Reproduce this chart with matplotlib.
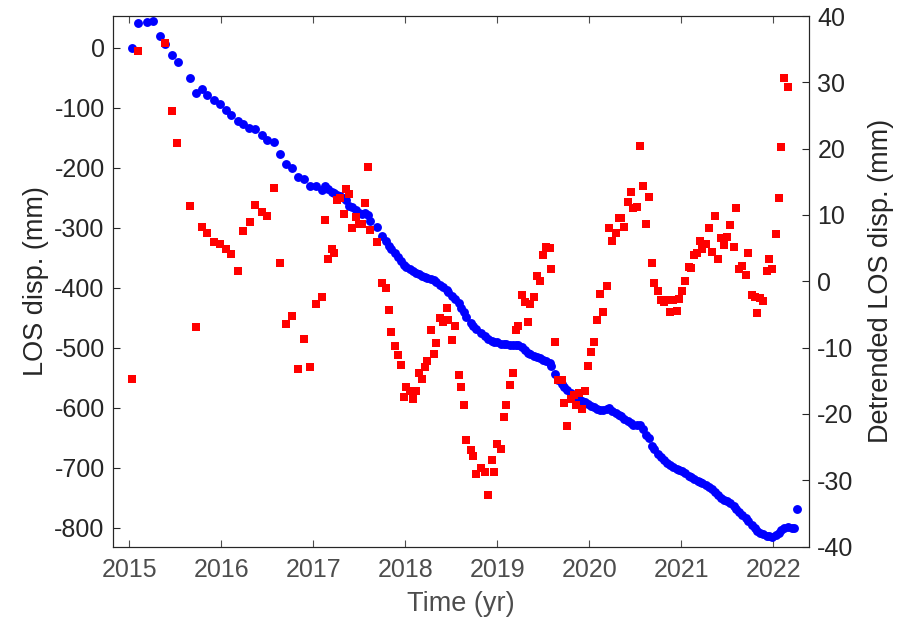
import numpy as np
import matplotlib.pyplot as plt

plt.rcParams['font.family'] = ['Liberation Sans', 'DejaVu Sans']
plt.rcParams['axes.unicode_minus'] = False

# LOS displacement time series (mm)
los_t = [2015.03, 2015.09, 2015.19, 2015.26, 2015.33, 2015.39, 2015.46, 2015.53, 2015.66, 2015.72,
         2015.79, 2015.85, 2015.92, 2015.99, 2016.05, 2016.11, 2016.18, 2016.24, 2016.30, 2016.37,
         2016.44, 2016.50, 2016.57, 2016.64, 2016.70, 2016.77, 2016.83, 2016.90, 2016.96, 2017.03,
         2017.09, 2017.13, 2017.16, 2017.20, 2017.23, 2017.26, 2017.29, 2017.33, 2017.36, 2017.39,
         2017.42, 2017.46, 2017.50, 2017.53, 2017.56, 2017.59, 2017.62, 2017.69, 2017.75, 2017.79,
         2017.82, 2017.85, 2017.89, 2017.92, 2017.95, 2017.99, 2018.01, 2018.05, 2018.08, 2018.12,
         2018.15, 2018.18, 2018.22, 2018.24, 2018.28, 2018.31, 2018.34, 2018.38, 2018.41, 2018.45,
         2018.47, 2018.51, 2018.54, 2018.58, 2018.61, 2018.64, 2018.66, 2018.71, 2018.74, 2018.77,
         2018.82, 2018.87, 2018.90, 2018.94, 2018.97, 2019.00, 2019.04, 2019.07, 2019.10, 2019.14,
         2019.17, 2019.20, 2019.23, 2019.27, 2019.30, 2019.33, 2019.36, 2019.40, 2019.43, 2019.46,
         2019.50, 2019.53, 2019.57, 2019.59, 2019.63, 2019.66, 2019.70, 2019.73, 2019.76, 2019.80,
         2019.83, 2019.86, 2019.89, 2019.92, 2019.95, 2019.99, 2020.02, 2020.05, 2020.09, 2020.12,
         2020.15, 2020.19, 2020.22, 2020.25, 2020.29, 2020.32, 2020.35, 2020.38, 2020.42, 2020.45,
         2020.48, 2020.52, 2020.55, 2020.58, 2020.62, 2020.65, 2020.68, 2020.71, 2020.75, 2020.78,
         2020.81, 2020.85, 2020.88, 2020.91, 2020.95, 2020.98, 2021.01, 2021.04, 2021.08, 2021.11,
         2021.14, 2021.18, 2021.20, 2021.23, 2021.27, 2021.30, 2021.33, 2021.37, 2021.40, 2021.43,
         2021.47, 2021.50, 2021.53, 2021.57, 2021.60, 2021.63, 2021.66, 2021.70, 2021.73, 2021.77,
         2021.80, 2021.83, 2021.86, 2021.89, 2021.93, 2021.96, 2021.99, 2022.03, 2022.06, 2022.09,
         2022.12, 2022.16, 2022.20, 2022.23, 2022.26]
los = [-1, 41, 43, 44, 19, 6, -11.5, -24, -50, -75,
       -68.5, -78, -87, -94, -103, -112, -122, -127, -133, -136,
       -146, -154, -157, -177, -194, -200, -216, -219, -231, -230,
       -237, -230, -236, -240, -242, -245, -247, -250, -254, -263,
       -266, -271, -276, -277, -276, -279, -289, -299, -313, -322,
       -330, -336, -342, -348, -355, -362, -365, -369, -372, -375,
       -377, -380, -382, -383, -385, -387, -390, -395, -399, -404,
       -407, -413, -418, -425, -433, -441, -448, -458, -464, -469,
       -475, -481, -485, -488, -490, -491, -493, -494, -494, -495,
       -496, -496, -496, -499, -503, -508, -511, -514, -516, -517,
       -520, -522, -526, -531, -544, -553, -560, -566, -570, -576,
       -579, -583, -585, -588, -591, -594, -597, -599, -602, -603,
       -604, -602, -601, -605, -609, -612, -614, -618, -622, -625,
       -628, -628, -629, -636, -645, -650, -663, -669, -677, -682,
       -687, -692, -696, -699, -702, -704, -706, -709, -713, -716,
       -719, -722, -724, -726, -729, -732, -735, -740, -746, -750,
       -753, -755, -759, -764, -769, -774, -778, -783, -788, -795,
       -800, -805, -809, -811, -813, -814, -816, -812, -808, -804,
       -801, -799, -800, -801, -768]

# detrended displacement (mm)
det_t = [2015.03, 2015.09, 2015.39, 2015.46, 2015.52, 2015.66, 2015.72, 2015.79, 2015.85, 2015.92,
         2015.99, 2016.05, 2016.11, 2016.18, 2016.24, 2016.31, 2016.37, 2016.44, 2016.50, 2016.57,
         2016.64, 2016.70, 2016.77, 2016.83, 2016.90, 2016.96, 2017.03, 2017.09, 2017.13, 2017.16,
         2017.20, 2017.23, 2017.26, 2017.29, 2017.33, 2017.36, 2017.39, 2017.42, 2017.46, 2017.50,
         2017.53, 2017.56, 2017.59, 2017.62, 2017.69, 2017.75, 2017.79, 2017.82, 2017.85, 2017.89,
         2017.92, 2017.95, 2017.99, 2018.01, 2018.05, 2018.08, 2018.12, 2018.15, 2018.18, 2018.22,
         2018.24, 2018.28, 2018.31, 2018.34, 2018.38, 2018.41, 2018.45, 2018.47, 2018.51, 2018.54,
         2018.58, 2018.61, 2018.64, 2018.66, 2018.71, 2018.74, 2018.77, 2018.82, 2018.87, 2018.90,
         2018.94, 2018.97, 2019.00, 2019.04, 2019.07, 2019.10, 2019.14, 2019.17, 2019.20, 2019.23,
         2019.27, 2019.30, 2019.33, 2019.36, 2019.40, 2019.43, 2019.46, 2019.50, 2019.53, 2019.57,
         2019.59, 2019.63, 2019.66, 2019.70, 2019.73, 2019.76, 2019.80, 2019.83, 2019.86, 2019.89,
         2019.92, 2019.95, 2019.99, 2020.02, 2020.05, 2020.09, 2020.12, 2020.15, 2020.19, 2020.22,
         2020.25, 2020.29, 2020.32, 2020.35, 2020.38, 2020.42, 2020.45, 2020.48, 2020.52, 2020.55,
         2020.58, 2020.62, 2020.65, 2020.68, 2020.71, 2020.75, 2020.78, 2020.81, 2020.85, 2020.88,
         2020.91, 2020.95, 2020.98, 2021.01, 2021.04, 2021.08, 2021.11, 2021.14, 2021.17, 2021.20,
         2021.23, 2021.27, 2021.30, 2021.33, 2021.37, 2021.40, 2021.43, 2021.47, 2021.50, 2021.53,
         2021.57, 2021.60, 2021.63, 2021.66, 2021.70, 2021.73, 2021.77, 2021.80, 2021.83, 2021.86,
         2021.89, 2021.93, 2021.96, 2021.99, 2022.03, 2022.06, 2022.09, 2022.12, 2022.16]
det = [-14.7, 34.7, 35.9, 25.6, 20.9, 11.4, -6.9, 8.2, 7.3, 5.9,
       5.6, 4.9, 4.1, 1.6, 7.6, 8.9, 11.5, 10.4, 9.9, 14.1,
       2.7, -6.5, -5.3, -13.2, -8.75, -12.9, -3.5, -2.3, 9.2, 3.3,
       4.9, 4.2, 12.2, 12.6, 10.1, 13.9, 13.1, 8.0, 9.7, 8.7,
       8.6, 11.8, 17.2, 7.7, 5.9, -0.2, -1.0, -4.3, -7.7, -9.7,
       -11.1, -12.6, -17.4, -15.9, -16.6, -17.7, -16.6, -13.8, -14.7, -12.9,
       -12.0, -7.4, -11.0, -9.3, -5.5, -6.2, -4.1, -5.8, -8.9, -6.8,
       -14.2, -16.0, -18.6, -23.9, -25.5, -26.3, -29.0, -28.2, -28.8, -32.2,
       -27.0, -28.8, -24.6, -25.3, -20.5, -18.7, -15.6, -13.8, -7.4, -6.7,
       -2.0, -3.1, -6.1, -3.5, -2.4, 0.8, 0.1, 4.0, 5.1, 5.0,
       1.9, -9.1, -14.9, -14.9, -18.4, -21.9, -17.7, -17.1, -18.7, -16.9,
       -19.2, -16.6, -12.8, -10.7, -9.1, -5.8, -1.9, -4.6, -0.7, 8.1,
       6.1, 7.3, 9.5, 9.5, 8.2, 11.9, 13.4, 11.1, 11.25, 20.4,
       14.3, 8.6, 12.7, 2.7, -0.3, -1.5, -2.9, -3.2, -2.9, -4.7,
       -2.9, -4.5, -2.7, -1.5, 0.1, 2.2, 2.0, 4.0, 4.2, 6.1,
       4.8, 5.6, 8.1, 4.4, 9.8, 3.4, 6.5, 5.5, 6.7, 8.5,
       5.1, 11.0, 1.9, 2.3, 1.0, 4.3, -2.0, -2.4, -4.8, -2.5,
       -3.0, 1.5, 3.4, 1.8, 7.2, 12.6, 20.2, 30.6, 29.3]

years = np.arange(2015, 2023)

dark = '#262626'
grey = '#4d4d4d'
fig = plt.figure(figsize=(8.99, 6.22), dpi=100)
ax1 = fig.add_axes([113 / 899, 75.5 / 622, 696 / 899, 530.5 / 622])
ax1.plot(los_t, los, 'o', color='blue', markersize=6.4, markeredgewidth=0)
ax1.set_xlim(2014.823, 2022.39)
ax1.set_ylim(-831, 53)
ax1.set_xticks(years)
ax1.set_yticks(np.arange(-800, 1, 100))
ax1.set_xlabel('Time (yr)', fontsize=19.5, color=grey, labelpad=7)
ax1.set_ylabel('LOS disp. (mm)', fontsize=19.5, color=dark, labelpad=4)
ax1.tick_params(axis='x', direction='in', top=True, length=5, width=0.8,
                labelsize=18, colors=grey, pad=8)
ax1.tick_params(axis='y', direction='in', length=5, width=0.8,
                labelsize=18, colors=dark, pad=6)

ax2 = ax1.twinx()
ax2.plot(det_t, det, 's', color='red', markersize=5.2, markeredgewidth=0)
ax2.set_ylim(-40, 40)
ax2.set_yticks(np.arange(-40, 41, 10))
ax2.set_ylabel('Detrended LOS disp. (mm)', fontsize=19.5, color=dark, labelpad=10)
ax2.tick_params(axis='y', direction='in', length=5, width=0.8,
                labelsize=18, colors=dark, pad=6)

for ax in (ax1, ax2):
    for s in ax.spines.values():
        s.set_color(dark)
        s.set_linewidth(0.8)

plt.savefig('out.png', dpi=100)
